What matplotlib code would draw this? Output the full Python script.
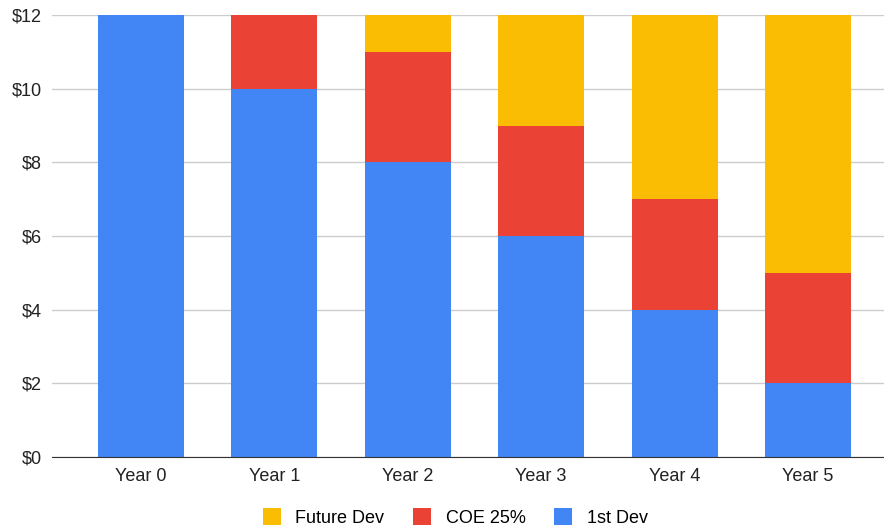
import matplotlib
matplotlib.use('Agg')
import matplotlib.pyplot as plt
import numpy as np

years = ["Year 0", "Year 1", "Year 2", "Year 3", "Year 4", "Year 5"]
first_dev = [12, 10, 8, 6, 4, 2]
coe = [0, 2, 3, 3, 3, 3]
future_dev = [0, 0, 1, 3, 5, 7]

plt.rcParams['font.family'] = ['Liberation Sans', 'DejaVu Sans']

fig = plt.figure(figsize=(8.84, 5.27), dpi=100)
ax = fig.add_axes([0.0588, 0.1328, 0.9412, 0.8387])

x = np.arange(len(years))
w = 0.645
b1 = ax.bar(x, first_dev, w, color="#4285F4", label="1st Dev", zorder=2)
b2 = ax.bar(x, coe, w, bottom=first_dev, color="#EA4335", label="COE 25%", zorder=2)
bottom2 = np.array(first_dev) + np.array(coe)
b3 = ax.bar(x, future_dev, w, bottom=bottom2, color="#FBBC04", label="Future Dev", zorder=2)

ax.set_xlim(-0.667, 5.57)
ax.set_ylim(0, 12)
ax.set_yticks(np.arange(0, 13, 2))
ax.set_yticklabels(["$%d" % v for v in range(0, 13, 2)])
ax.set_xticks(x)
ax.set_xticklabels(years)
ax.tick_params(length=0, labelsize=13, colors="#222222", pad=8)
ax.tick_params(axis='y', pad=7)
ax.grid(axis='y', color="#cccccc", linewidth=1, zorder=0)
for s in ['top', 'right', 'left']:
    ax.spines[s].set_visible(False)
ax.spines['bottom'].set_color("#333333")
ax.spines['bottom'].set_zorder(3)

lgd = fig.legend([b3, b2, b1], ["Future Dev", "COE 25%", "1st Dev"], loc='center',
                 bbox_to_anchor=(0.515, 0.018), ncol=3, frameon=False, fontsize=13,
                 handlelength=1.0, handleheight=1.0, columnspacing=1.6, handletextpad=0.8)

plt.savefig("out.png", dpi=100)
